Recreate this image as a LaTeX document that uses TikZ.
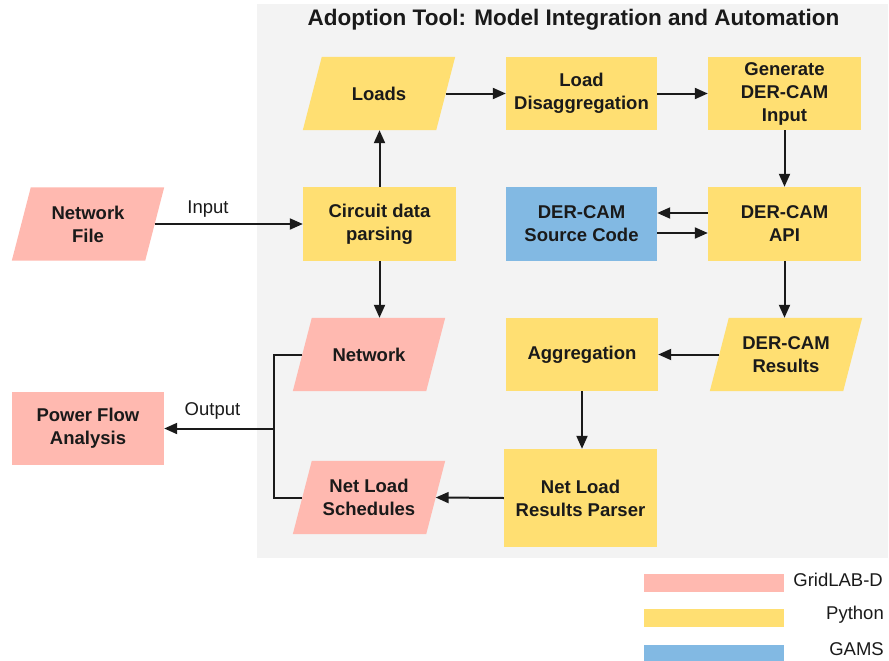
\documentclass[tikz,border=0pt]{standalone}
\usepackage{fontspec}
\setmainfont{Liberation Sans}
\usetikzlibrary{arrows.meta}
\definecolor{gridpink}{HTML}{FFB9B0}
\definecolor{pyyellow}{HTML}{FFDF72}
\definecolor{gamsblue}{HTML}{82B9E3}
\definecolor{panelgrey}{HTML}{F3F3F3}
\definecolor{ink}{HTML}{1A1A1A}
\pgfdeclarelayer{bg}
\pgfdeclarelayer{shapes}
\pgfsetlayers{bg,shapes,main}
\tikzset{
  boxtext/.style={font=\bfseries\fontsize{18.5}{23}\selectfont, text=ink, align=center, inner sep=0pt},
  rectbox/.style={boxtext, rectangle, minimum width=152pt, minimum height=73pt},
  parabox/.style={boxtext, rectangle, minimum width=133pt, minimum height=73pt},
  conn/.style={draw=ink, line width=2pt, -{Triangle[length=13pt,width=11pt]}},
  plainconn/.style={draw=ink, line width=2pt},
  lbl/.style={font=\fontsize{18.5}{22}\selectfont, text=ink, inner sep=0pt},
}
\newcommand{\parafill}[2]{%
  \fill[#2] ([xshift=-9.5pt]#1.south west) -- ([xshift=-9.5pt]#1.south east)
    -- ([xshift=9.5pt]#1.north east) -- ([xshift=9.5pt]#1.north west) -- cycle;}
\begin{document}
\begin{tikzpicture}[x=1pt,y=-1pt]
\useasboundingbox (0,0) rectangle (889,661);
\begin{pgfonlayer}{bg}
  \fill[white] (0,0) rectangle (889,661);
  \fill[panelgrey] (257,4) rectangle (888,558);
\end{pgfonlayer}

\node[font=\bfseries\fontsize{22.5}{26}\selectfont, text=ink, inner sep=0pt] (title) at (573.5,19.5) {Adoption Tool: Model Integration and Automation};

% parallelogram nodes (mid-width rectangles)
\node[parabox] (netfile) at (88,224) {Network\\File};
\node[parabox] (loads) at (379,93.5) {Loads};
\node[parabox] (network) at (369,354.5) {Network};
\node[parabox] (results) at (786,354.5) {DER-CAM\\Results};
\node[parabox] (sched) at (369,497.5) {Net Load\\Schedules};

% rectangle nodes
\node[rectbox, fill=pyyellow, minimum width=151pt] (disagg) at (581.5,93.5) {Load\\Disaggregation};
\node[rectbox, fill=pyyellow, minimum width=153pt] (gen) at (784.5,93.5) {Generate\\DER-CAM\\Input};
\node[rectbox, fill=pyyellow, minimum width=153pt, minimum height=74pt] (circuit) at (379.5,224) {Circuit data\\parsing};
\node[rectbox, fill=gamsblue, minimum width=151pt, minimum height=74pt] (src) at (581.5,224) {DER-CAM\\Source Code};
\node[rectbox, fill=pyyellow, minimum width=153pt, minimum height=74pt] (api) at (784.5,224) {DER-CAM\\API};
\node[rectbox, fill=pyyellow, minimum width=152pt] (agg) at (582,354.5) {Aggregation};
\node[rectbox, fill=gridpink] (pfa) at (88,428.5) {Power Flow\\Analysis};
\node[rectbox, fill=pyyellow, minimum width=153pt, minimum height=98pt] (parser) at (580.5,498) {Net Load\\Results Parser};

\begin{pgfonlayer}{shapes}
  \parafill{netfile}{gridpink}
  \parafill{loads}{pyyellow}
  \parafill{network}{gridpink}
  \parafill{results}{pyyellow}
  \parafill{sched}{gridpink}
\end{pgfonlayer}

% connectors
\draw[conn] (netfile.east) -- node[lbl, above=6pt, pos=0.36] (inlbl) {Input} (circuit.west);
\draw[conn] (circuit.north) -- (circuit.north |- loads.south);
\draw[conn] (loads.east) -- (disagg.west);
\draw[conn] (disagg.east) -- (gen.west);
\draw[conn] (gen.south) -- (api.north);
\draw[conn] ([yshift=11pt]api.west) -- ([yshift=11pt]src.east);
\draw[conn] ([yshift=-9pt]src.east) -- ([yshift=-9pt]api.west);
\draw[conn] (api.south) -- (api.south |- results.north);
\draw[conn] (results.west) -- (agg.east);
\draw[conn] (agg.south) -- (agg.south |- parser.north);
\draw[conn] (parser.west) -- (sched.east);
\draw[conn] (circuit.south) -- (circuit.south |- network.north);

\coordinate (bx) at (274,428.5);
\draw[plainconn] (network.west) -| (bx) |- (sched.west);
\draw[conn] (bx) -- node[lbl, above=8pt, pos=0.56] (outlbl) {Output} (pfa.east);

% legend
\fill[gridpink] (644,574) rectangle (784,592);
\fill[pyyellow] (644,609) rectangle (784,627);
\fill[gamsblue] (644,645) rectangle (784,662);
\node[lbl, anchor=east] (leg1) at (883,580) {GridLAB-D};
\node[lbl, anchor=east] (leg2) at (884,615) {Python};
\node[lbl, anchor=east] (leg3) at (884,649) {GAMS};
\end{tikzpicture}
\end{document}
